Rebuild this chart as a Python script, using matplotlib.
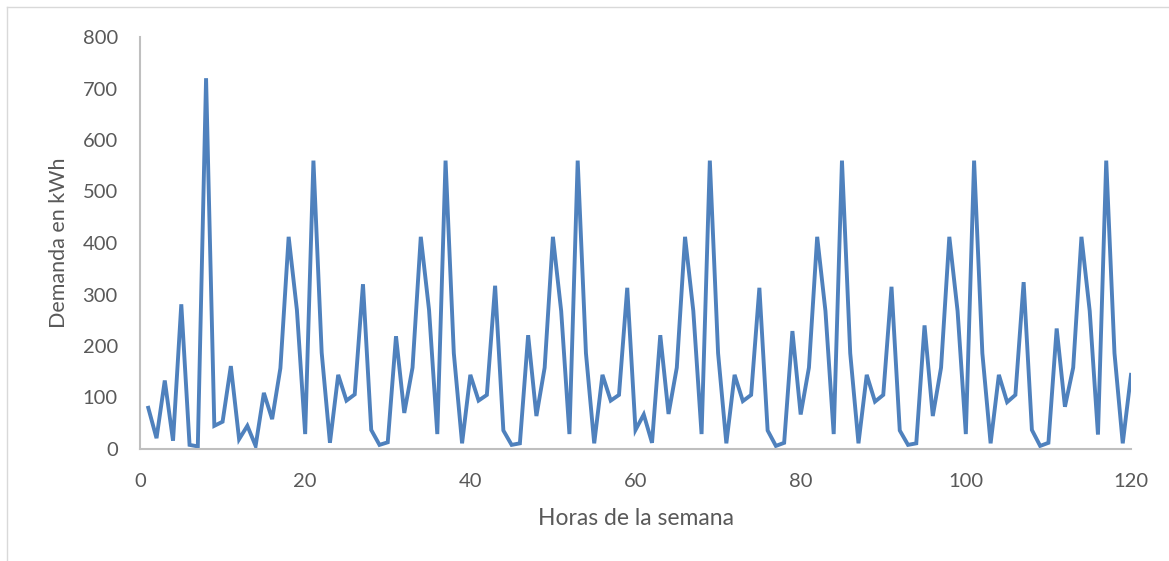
import matplotlib.pyplot as plt
from matplotlib.lines import Line2D

# ── 数据：每小时的需求 (kWh) ──────────────────────────────
horas = list(range(1, 121))
demanda = [
    80, 21, 133, 16, 281, 8, 5, 720, 45, 53,
    161, 19, 45, 6, 109, 58, 157, 412, 270, 29,
    560, 187, 12, 144, 94, 106, 320, 37, 8, 13,
    219, 70, 158, 412, 270, 29, 560, 186, 11, 144,
    94, 105, 317, 36, 8, 11, 221, 64, 158, 412,
    268, 29, 560, 186, 11, 144, 94, 105, 313, 37,
    67, 12, 221, 68, 158, 412, 268, 29, 560, 186,
    11, 144, 93, 105, 313, 36, 6, 12, 229, 67,
    158, 412, 268, 29, 560, 186, 11, 144, 92, 105,
    315, 36, 8, 11, 240, 64, 158, 412, 268, 29,
    560, 186, 11, 144, 91, 105, 324, 37, 6, 12,
    234, 82, 158, 412, 268, 28, 560, 186, 11, 144,
]
x_ticks = [0, 20, 40, 60, 80, 100, 120]
y_ticks = [0, 100, 200, 300, 400, 500, 600, 700, 800]

plt.rcParams['font.family'] = ['Lato', 'DejaVu Sans']
GRIS = '#595959'

fig = plt.figure(figsize=(11.69, 5.61), dpi=100)
ax = fig.add_axes([140 / 1169, 1 - 449 / 561, 991 / 1169, 412 / 561])

ax.plot(horas, demanda, color='#4F81BD', lw=2.8, solid_joinstyle='miter')

ax.set_xlim(0, 120)
ax.set_ylim(0, 800)
ax.set_xticks(x_ticks)
ax.set_yticks(y_ticks)
ax.tick_params(length=0, labelsize=14.5, labelcolor=GRIS)
ax.tick_params(axis='y', pad=16)
ax.tick_params(axis='x', pad=17)

for s in ['top', 'right']:
    ax.spines[s].set_visible(False)
for s in ['left', 'bottom']:
    ax.spines[s].set_color('#BFBFBF')
    ax.spines[s].set_linewidth(1.5)

ax.set_xlabel("Horas de la semana", fontsize=16.5, color=GRIS, labelpad=13)
ax.set_ylabel("Demanda en kWh", fontsize=15.5, color=GRIS, labelpad=10)

# borde del área del gráfico (solo arriba e izquierda visibles)
fig.add_artist(Line2D([7 / 1169, 1], [1 - 7 / 561, 1 - 7 / 561],
                      transform=fig.transFigure, color='#D9D9D9', lw=1))
fig.add_artist(Line2D([7 / 1169, 7 / 1169], [0, 1 - 7 / 561],
                      transform=fig.transFigure, color='#D9D9D9', lw=1))

fig.savefig("out.png", dpi=100)
